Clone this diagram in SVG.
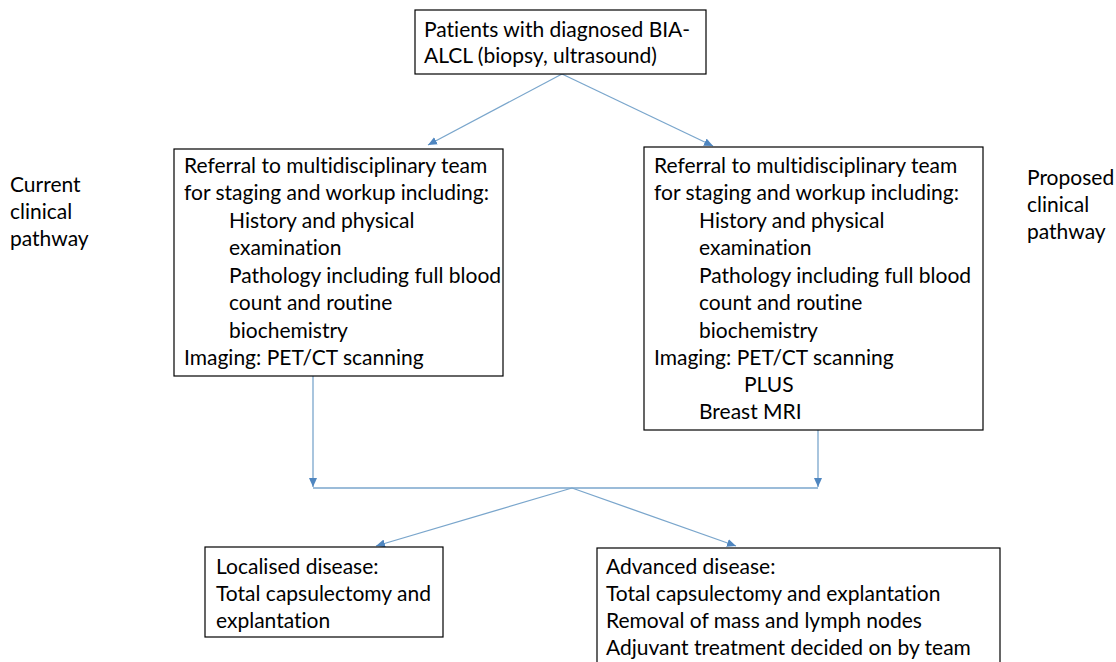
<svg xmlns="http://www.w3.org/2000/svg" width="1116" height="662" viewBox="0 0 1116 662">
<defs>
<style>
.box{fill:#ffffff;stroke:#000000;stroke-width:1.2}
.t{font-family:Lato,"Open Sans","Liberation Sans",sans-serif;font-size:21px;fill:#000000;font-variant-ligatures:none;font-feature-settings:"liga" 0,"clig" 0}
.c{fill:none;stroke:#7aa6cc;stroke-width:1.3}
</style>
<marker id="ah" markerWidth="10" markerHeight="10" refX="9" refY="5" orient="auto" markerUnits="userSpaceOnUse">
<path d="M0,1 L9,5 L0,9 z" fill="#4f86c0"/>
</marker>
</defs>
<rect width="1116" height="662" fill="#ffffff"/>
<g id="connectors">
<line class="c" x1="562" y1="74" x2="428" y2="145" marker-end="url(#ah)"/>
<line class="c" x1="562" y1="74" x2="713" y2="146" marker-end="url(#ah)"/>
<line class="c" x1="313" y1="376" x2="313" y2="487" marker-end="url(#ah)"/>
<line class="c" x1="818" y1="430" x2="818" y2="487" marker-end="url(#ah)"/>
<line class="c" x1="313" y1="488" x2="818" y2="488"/>
<line class="c" x1="572" y1="488" x2="376" y2="546" marker-end="url(#ah)"/>
<line class="c" x1="572" y1="488" x2="736" y2="546" marker-end="url(#ah)"/>
</g>
<g id="label-current">
<text class="t" x="10" y="192">Current</text>
<text class="t" x="10" y="219">clinical</text>
<text class="t" x="10" y="246">pathway</text>
</g>
<g id="label-proposed">
<text class="t" x="1027" y="185">Proposed</text>
<text class="t" x="1027" y="212">clinical</text>
<text class="t" x="1027" y="239">pathway</text>
</g>
<g id="node-top">
<rect class="box" x="415" y="10" width="291" height="64"/>
<text class="t" x="424" y="37">Patients with diagnosed BIA-</text>
<text class="t" x="424" y="63">ALCL (biopsy, ultrasound)</text>
</g>
<g id="node-current">
<rect class="box" x="174" y="149" width="329" height="227"/>
<text class="t" x="184" y="173">Referral to multidisciplinary team</text>
<text class="t" x="184" y="200">for staging and workup including:</text>
<text class="t" x="229" y="228">History and physical</text>
<text class="t" x="229" y="255">examination</text>
<text class="t" x="229" y="283">Pathology including full blood</text>
<text class="t" x="229" y="310">count and routine</text>
<text class="t" x="229" y="338">biochemistry</text>
<text class="t" x="184" y="365">Imaging: PET/CT scanning</text>
</g>
<g id="node-proposed">
<rect class="box" x="644" y="147" width="339" height="283"/>
<text class="t" x="654" y="173">Referral to multidisciplinary team</text>
<text class="t" x="654" y="200">for staging and workup including:</text>
<text class="t" x="699" y="228">History and physical</text>
<text class="t" x="699" y="255">examination</text>
<text class="t" x="699" y="283">Pathology including full blood</text>
<text class="t" x="699" y="310">count and routine</text>
<text class="t" x="699" y="338">biochemistry</text>
<text class="t" x="654" y="365">Imaging: PET/CT scanning</text>
<text class="t" x="744" y="392">PLUS</text>
<text class="t" x="699" y="419">Breast MRI</text>
</g>
<g id="node-localised">
<rect class="box" x="205" y="547" width="238" height="90"/>
<text class="t" x="216" y="574">Localised disease:</text>
<text class="t" x="216" y="601">Total capsulectomy and</text>
<text class="t" x="216" y="628">explantation</text>
</g>
<g id="node-advanced">
<rect class="box" x="597" y="548" width="403" height="130"/>
<text class="t" x="606" y="574">Advanced disease:</text>
<text class="t" x="606" y="601">Total capsulectomy and explantation</text>
<text class="t" x="606" y="628">Removal of mass and lymph nodes</text>
<text class="t" x="606" y="655">Adjuvant treatment decided on by team</text>
</g>
</svg>
